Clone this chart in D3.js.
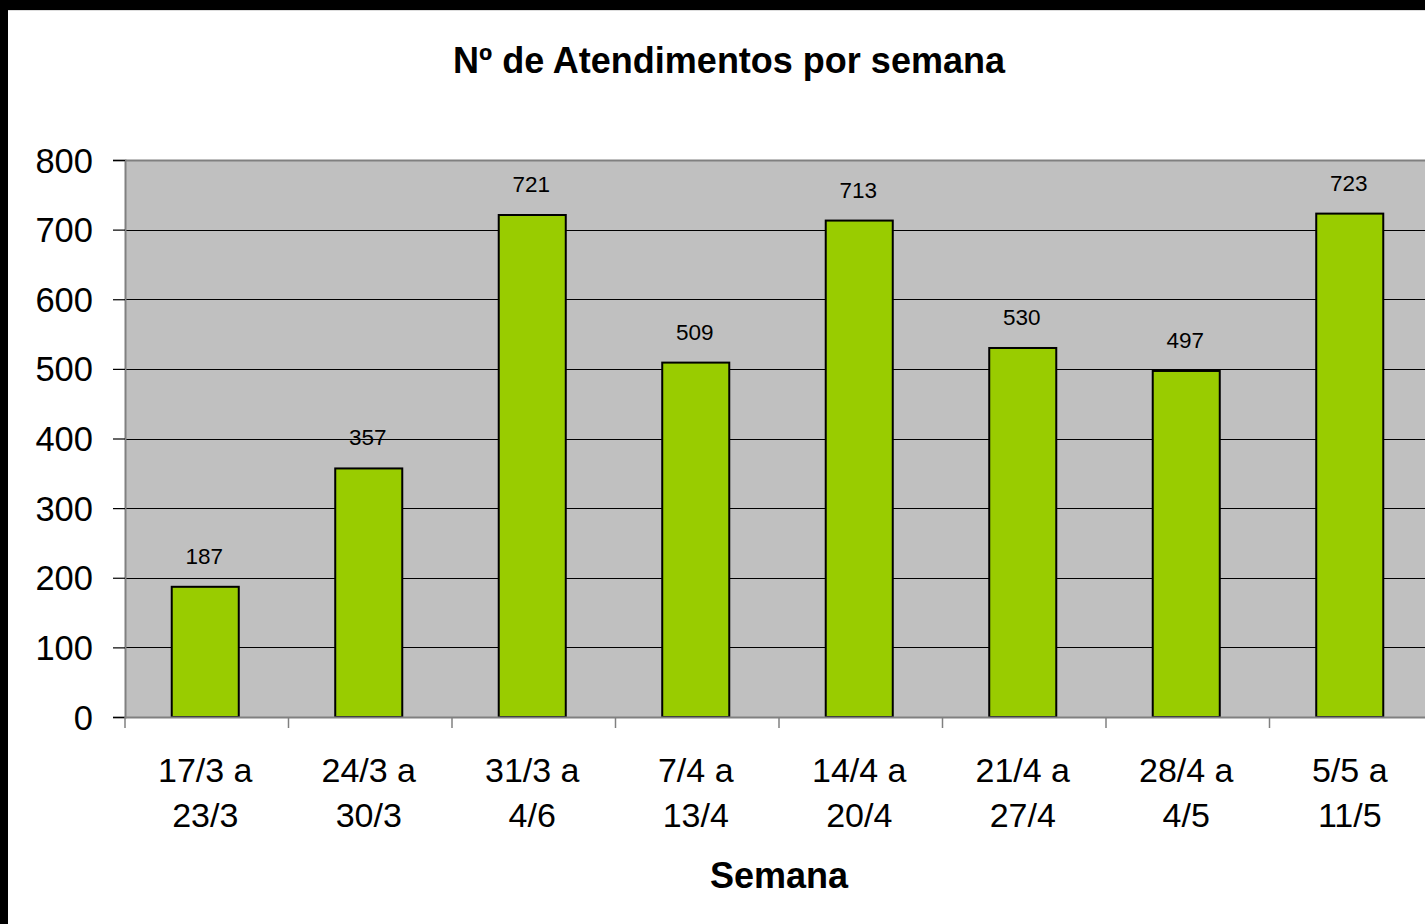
<!DOCTYPE html>
<html>
<head>
<meta charset="utf-8">
<script src="https://cdn.jsdelivr.net/npm/d3@7"></script>
<style>
  html, body { margin: 0; padding: 0; background: #fff; overflow: hidden; }
  svg { display: block; }
  text { font-family: Arial, "Liberation Sans", sans-serif; fill: #000; }
</style>
</head>
<body>
<svg id="chart" width="1425" height="924"></svg>
<script>
const categories = [["17/3 a","23/3"],["24/3 a","30/3"],["31/3 a","4/6"],["7/4 a","13/4"],["14/4 a","20/4"],["21/4 a","27/4"],["28/4 a","4/5"],["5/5 a","11/5"]];
const values = [187, 357, 721, 509, 713, 530, 497, 723];
const yTicks = [0, 100, 200, 300, 400, 500, 600, 700, 800];
const title = "Nº de Atendimentos por semana";
const xTitle = "Semana";

(function () {
const svg = d3.select("#chart");
const W = 1425, H = 924;

svg.append("rect").attr("x", 0).attr("y", 0).attr("width", W).attr("height", H).attr("fill", "#fff");
svg.append("rect").attr("x", 0).attr("y", 0).attr("width", W).attr("height", 10).attr("fill", "#000");
svg.append("rect").attr("x", 0).attr("y", 0).attr("width", 8).attr("height", H).attr("fill", "#000");
svg.append("line").attr("x1", 8).attr("x2", W).attr("y1", 10.5).attr("y2", 10.5).attr("stroke", "#ddd").attr("stroke-width", 1);

const pLeft = 125, pTop = 160, pBottom = 717;
const step = 163.5;
const pRight = pLeft + step * categories.length;

const x = d3.scaleBand().domain(d3.range(categories.length)).range([pLeft, pRight]).padding(0);
const y = d3.scaleLinear().domain([0, 800]).range([pBottom, pTop]);

svg.append("rect").attr("x", pLeft).attr("y", pTop).attr("width", pRight - pLeft).attr("height", pBottom - pTop)
  .attr("fill", "#C0C0C0");

svg.append("g").selectAll("line").data(yTicks.filter(t => t > 0 && t < 800)).join("line")
  .attr("x1", pLeft).attr("x2", pRight)
  .attr("y1", d => Math.round(y(d)) + 0.5).attr("y2", d => Math.round(y(d)) + 0.5)
  .attr("stroke", "#000").attr("stroke-width", 1);

svg.append("line").attr("x1", pLeft).attr("x2", pRight).attr("y1", pTop + 0.5).attr("y2", pTop + 0.5)
  .attr("stroke", "#808080").attr("stroke-width", 2);

const bw = x.bandwidth() * 0.41;
const cxOf = i => x(i) + x.bandwidth() / 2 - 1.5;
svg.append("g").selectAll("rect").data(values).join("rect")
  .attr("x", (d, i) => cxOf(i) - bw / 2)
  .attr("y", d => y(d))
  .attr("width", bw)
  .attr("height", d => pBottom - y(d))
  .attr("fill", "#99CC00")
  .attr("stroke", "#000")
  .attr("stroke-width", 2);

svg.append("g").selectAll("text").data(values).join("text")
  .attr("x", (d, i) => cxOf(i) - 1)
  .attr("y", d => y(d) - 23)
  .attr("text-anchor", "middle")
  .attr("font-size", 22.5)
  .text(d => d);

const yAxis = d3.axisLeft(y).tickValues(yTicks).tickSize(12).tickPadding(20).tickFormat(d3.format("d"));
const gy = svg.append("g").attr("transform", `translate(${pLeft},0)`).call(yAxis);
gy.select(".domain").attr("stroke", "#808080").attr("stroke-width", 2);
gy.selectAll(".tick line").attr("stroke", "#000").attr("stroke-width", 1.2);
gy.selectAll(".tick text").attr("font-size", 34.5).attr("font-family", "Arial, 'Liberation Sans', sans-serif").attr("fill", "#000").attr("dy", "0.35em");

const gx = svg.append("g");
gx.append("line").attr("x1", pLeft).attr("x2", pRight).attr("y1", pBottom + 0.5).attr("y2", pBottom + 0.5)
  .attr("stroke", "#808080").attr("stroke-width", 2);
gx.selectAll("line.tk").data(d3.range(categories.length + 1)).join("line").attr("class", "tk")
  .attr("x1", i => i < categories.length ? x(i) : pRight).attr("x2", i => i < categories.length ? x(i) : pRight)
  .attr("y1", pBottom).attr("y2", pBottom + 11)
  .attr("stroke", "#808080").attr("stroke-width", 1.5);

const cl = gx.selectAll("text.cat").data(categories).join("text").attr("class", "cat")
  .attr("text-anchor", "middle").attr("font-size", 34);
cl.each(function(d, i) {
  const t = d3.select(this);
  const cx = cxOf(i);
  t.append("tspan").attr("x", cx).attr("y", 782).text(d[0]);
  t.append("tspan").attr("x", cx).attr("y", 827).text(d[1]);
});

svg.append("text").attr("x", 729).attr("y", 73).attr("text-anchor", "middle")
  .attr("font-size", 36).attr("font-weight", "bold").text(title);
svg.append("text").attr("x", (pLeft + pRight) / 2).attr("y", 888).attr("text-anchor", "middle")
  .attr("font-size", 36).attr("font-weight", "bold").text(xTitle);
})();
</script>
</body>
</html>
